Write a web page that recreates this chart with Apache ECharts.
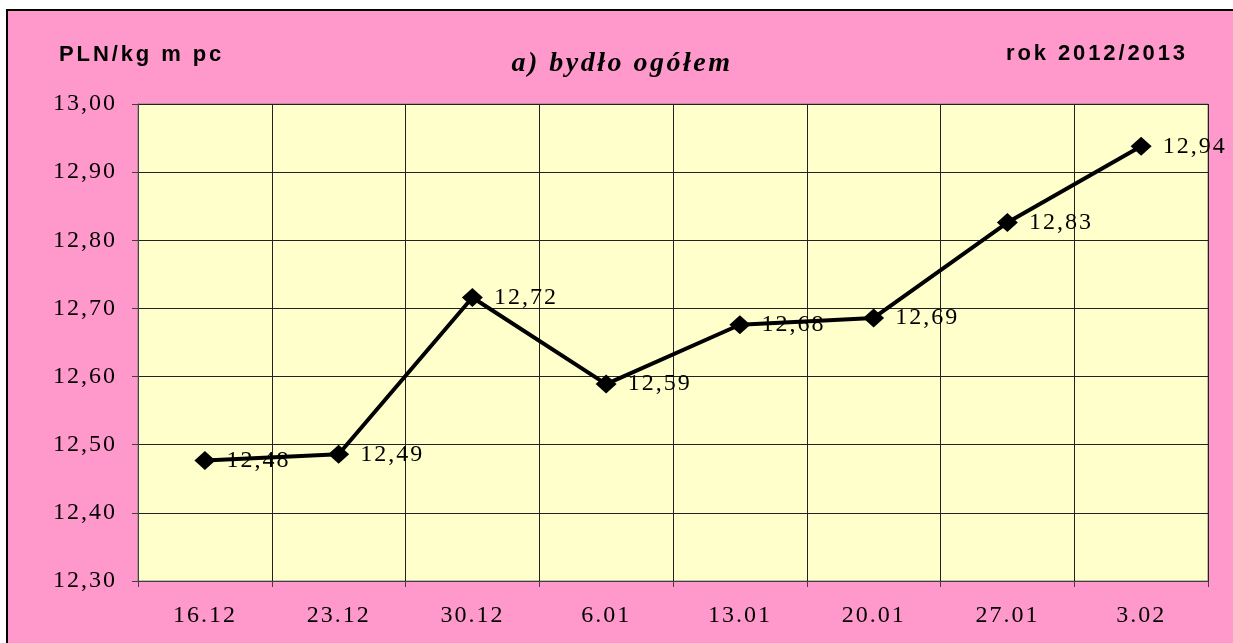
<!DOCTYPE html>
<html>
<head>
<meta charset="utf-8">
<script src="https://cdn.jsdelivr.net/npm/echarts/dist/echarts.min.js"></script>
<style>
html,body{margin:0;padding:0;background:#fff;}
#chart{width:1233px;height:643px;}
</style>
</head>
<body>
<div id="chart"></div>
<script>
var categories = ['16.12', '23.12', '30.12', '6.01', '13.01', '20.01', '27.01', '3.02'];
var prices = [12.477, 12.486, 12.716, 12.589, 12.676, 12.686, 12.826, 12.938];
var yMin = 12.30, yMax = 13.00, yStep = 0.10;
var unitLabel = 'PLN/kg m pc';
var chartTitle = 'a) bydło ogółem';
var yearLabel = 'rok 2012/2013';

// widen letter spacing like the original (Excel-scaled) text
(function () {
  var proto = window.CanvasRenderingContext2D && CanvasRenderingContext2D.prototype;
  if (!proto || !('letterSpacing' in proto)) return;
  var desc = Object.getOwnPropertyDescriptor(proto, 'font');
  if (!desc || !desc.set) return;
  Object.defineProperty(proto, 'font', {
    configurable: true,
    get: function () { return desc.get.call(this); },
    set: function (v) {
      desc.set.call(this, v);
      var s = '0px';
      if (/italic/.test(v)) s = '2.5px';
      else if (/Liberation Sans/.test(v) && /bold/.test(v)) s = '2.9px';
      else if (/Liberation Serif/.test(v)) s = '2px';
      try { this.letterSpacing = s; } catch (e) {}
    }
  });
})();

var chart = echarts.init(document.getElementById('chart'));
var fmt = function (v) { return Number(v).toFixed(2).replace('.', ','); };
var serif = '"Liberation Serif", "Times New Roman", serif';
var sans = '"Liberation Sans", Arial, sans-serif';

chart.setOption({
  backgroundColor: '#ffffff',
  animation: false,
  graphic: [
    { type: 'rect', z: -100, silent: true,
      shape: { x: 7, y: 10, width: 1300, height: 700 },
      style: { fill: '#FF99CC', stroke: '#000', lineWidth: 2 } },
    { type: 'text', x: 59, y: 55, z: 10,
      style: { text: unitLabel, font: 'bold 22px ' + sans, fill: '#000',
               textAlign: 'left', textVerticalAlign: 'middle' } },
    { type: 'text', x: 622, y: 64, z: 10,
      style: { text: chartTitle, font: 'italic bold 28px ' + serif, fill: '#000',
               textAlign: 'center', textVerticalAlign: 'middle' } },
    { type: 'text', x: 1188, y: 54, z: 10,
      style: { text: yearLabel, font: 'bold 22px ' + sans, fill: '#000',
               textAlign: 'right', textVerticalAlign: 'middle' } }
  ],
  grid: {
    left: 138, right: 25, top: 104, bottom: 62,
    show: true, backgroundColor: '#FFFFCC', borderColor: '#808080', borderWidth: 1
  },
  xAxis: {
    type: 'category',
    data: categories,
    boundaryGap: true,
    axisLine: { lineStyle: { color: '#404040', width: 1 } },
    axisTick: { show: true, length: 6, alignWithLabel: false, lineStyle: { color: '#404040' } },
    axisLabel: { fontFamily: serif, fontSize: 24, color: '#000', margin: 22 },
    splitLine: { show: true, lineStyle: { color: '#222', width: 1 } }
  },
  yAxis: {
    type: 'value',
    min: yMin, max: yMax, interval: yStep,
    axisLine: { show: true, lineStyle: { color: '#404040', width: 1 } },
    axisTick: { show: true, length: 6, lineStyle: { color: '#404040' } },
    axisLabel: { fontFamily: serif, fontSize: 24, color: '#000', margin: 21, formatter: fmt },
    splitLine: { show: true, lineStyle: { color: '#222', width: 1 } }
  },
  series: [{
    type: 'line',
    data: prices,
    symbol: 'diamond',
    symbolSize: [21, 19],
    lineStyle: { color: '#000', width: 4 },
    itemStyle: { color: '#000' },
    label: {
      show: true, position: 'right', distance: 11,
      fontFamily: serif, fontSize: 24, color: '#000',
      formatter: function (p) { return fmt(p.value); }
    }
  }]
});
</script>
</body>
</html>
